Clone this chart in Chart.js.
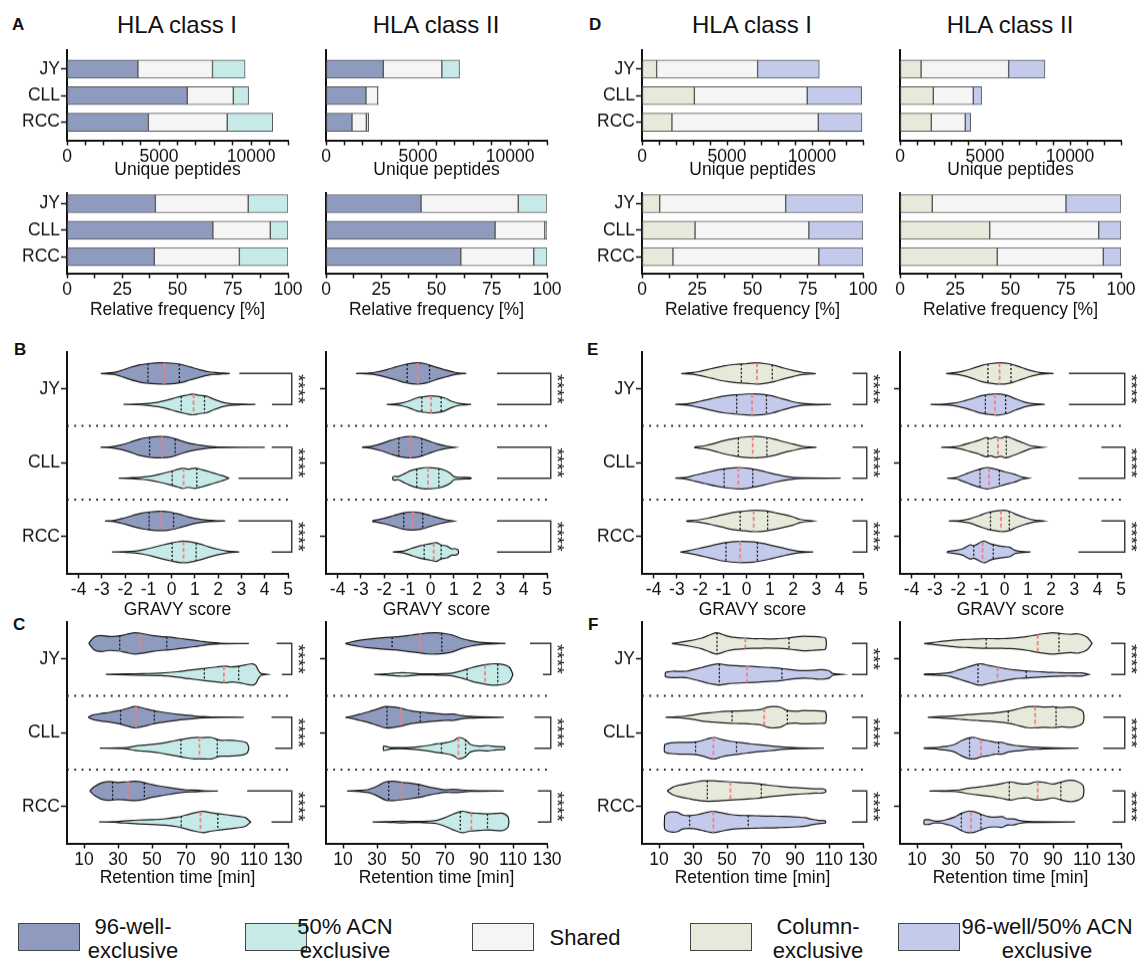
<!DOCTYPE html>
<html><head><meta charset="utf-8">
<script src="https://cdn.jsdelivr.net/npm/chart.js"></script>
<style>
html,body{margin:0;padding:0;background:#fff;}
body{width:1137px;height:961px;position:relative;overflow:hidden;font-family:"Liberation Sans",Arial,sans-serif;color:#111;}
canvas{position:absolute;}
.let{position:absolute;font-weight:bold;font-size:17px;line-height:20px;}
.ttl{position:absolute;font-size:24px;line-height:28px;transform:translateX(-50%);white-space:nowrap;}
.lgb{position:absolute;width:62px;height:28px;border:1px solid #444;box-sizing:border-box;}
.lgt{position:absolute;font-size:22px;line-height:24px;text-align:center;transform:translateX(-50%);white-space:nowrap;}
</style></head><body>
<div class="let" style="left:12px;top:15px">A</div>
<div class="let" style="left:589px;top:15px">D</div>
<div class="let" style="left:14px;top:340px">B</div>
<div class="let" style="left:587px;top:340px">E</div>
<div class="let" style="left:13px;top:615px">C</div>
<div class="let" style="left:588px;top:615px">F</div>
<div class="ttl" style="left:177px;top:11px">HLA class I</div>
<div class="ttl" style="left:436px;top:11px">HLA class II</div>
<div class="ttl" style="left:752px;top:11px">HLA class I</div>
<div class="ttl" style="left:1010px;top:11px">HLA class II</div>

<div class="lgb" style="left:18px;top:923px;background:#8f9abf"></div>
<div class="lgt" style="left:133px;top:915px">96-well-<br>exclusive</div>
<div class="lgb" style="left:245px;top:923px;background:#c6eae8"></div>
<div class="lgt" style="left:345px;top:915px">50% ACN<br>exclusive</div>
<div class="lgb" style="left:472px;top:923px;background:#f5f5f5"></div>
<div class="lgt" style="left:585px;top:926px">Shared</div>
<div class="lgb" style="left:690px;top:923px;background:#e5eada"></div>
<div class="lgt" style="left:818px;top:915px">Column-<br>exclusive</div>
<div class="lgb" style="left:898px;top:923px;background:#c3caec"></div>
<div class="lgt" style="left:1047px;top:915px">96-well/50% ACN<br>exclusive</div>

<script>
// ---- data
const CELLS = ['JY','CLL','RCC'];
const COUNT_TICKS_12 = [0,1000,2000,3000,4000,5000,6000,7000,8000,9000,10000,11000,12000];
const COUNT_TICKS_13 = [0,1000,2000,3000,4000,5000,6000,7000,8000,9000,10000,11000,12000,13000];
const PCT_TICKS = [0,12.5,25,37.5,50,62.5,75,87.5,100];
const GRAVY_TICKS = [-4,-3,-2,-1,0,1,2,3,4,5];
const RT_TICKS = [10,30,50,70,90,110,130];

// A: unique peptides, stacked segments [JY, CLL, RCC]
const aI_well = [3850, 6530, 4420];
const aI_shared = [4050, 2500, 4280];
const aI_acn = [1770, 830, 2470];
const aII_well = [3110, 2170, 1410];
const aII_shared = [3180, 640, 780];
const aII_acn = [960, 30, 130];
// A: relative frequency [%]
const aIrel_well = [40, 66, 39.5];
const aIrel_shared = [42, 26, 38.5];
const aIrel_acn = [18, 8, 22];
const aIIrel_well = [43, 76.5, 61];
const aIIrel_shared = [44, 22.5, 33];
const aIIrel_acn = [13, 1, 6];
// D: unique peptides
const dI_col = [860, 3080, 1760];
const dI_shared = [5940, 6640, 8610];
const dI_mix = [3630, 3200, 2570];
const dII_col = [1240, 1960, 1840];
const dII_shared = [5150, 2350, 2000];
const dII_mix = [2140, 490, 320];
// D: relative frequency [%]
const dIrel_col = [8, 24, 14];
const dIrel_shared = [57, 51.5, 66];
const dIrel_mix = [35, 24.5, 20];
const dIIrel_col = [14.6, 40.6, 44];
const dIIrel_shared = [60.5, 49.3, 48];
const dIIrel_mix = [24.9, 10.1, 8];

// violins: outline as [value, relative width], order JY a/b, CLL a/b, RCC a/b
const bI_violins = [
  [[-3.05,0],[-2.5,0.08],[-2.2,0.25],[-1.8,0.55],[-1.4,0.8],[-1.0,0.92],[-0.5,1.0],[0,0.97],[0.4,0.85],[0.8,0.6],[1.2,0.35],[1.6,0.15],[1.9,0.08],[2.2,0.04],[2.5,0]],
  [[-2.07,0],[-1.5,0.03],[-1.1,0.08],[-0.6,0.2],[-0.2,0.4],[0.2,0.65],[0.6,0.85],[0.9,0.97],[1.2,0.85],[1.5,0.78],[1.8,0.5],[2.2,0.2],[2.5,0.08],[3.0,0.03],[3.6,0]],
  [[-3.06,0],[-2.6,0.05],[-2.2,0.2],[-1.8,0.45],[-1.4,0.75],[-1.0,0.92],[-0.5,1.0],[0,0.9],[0.4,0.6],[0.8,0.35],[1.2,0.2],[1.6,0.08],[2.0,0.02],[4.0,0]],
  [[-2.28,0],[-1.8,0.04],[-1.3,0.1],[-0.9,0.2],[-0.5,0.38],[-0.1,0.6],[0.3,0.85],[0.5,0.95],[0.7,0.85],[1.0,0.95],[1.3,0.8],[1.7,0.55],[2.0,0.35],[2.3,0.15],[2.45,0]],
  [[-2.87,0],[-2.5,0.05],[-2.1,0.25],[-1.7,0.5],[-1.3,0.72],[-0.9,0.85],[-0.5,0.9],[-0.1,0.85],[0.3,0.65],[0.7,0.4],[1.1,0.2],[1.5,0.08],[1.9,0.03],[2.3,0]],
  [[-2.57,0],[-2.0,0.03],[-1.6,0.08],[-1.2,0.22],[-0.8,0.42],[-0.4,0.65],[0,0.85],[0.4,1.0],[0.8,0.95],[1.2,0.75],[1.6,0.48],[2.0,0.25],[2.4,0.08],[2.9,0]]
];
const bI_quart = [[-1.02,-0.31,0.33],[0.41,0.94,1.41],[-0.95,-0.42,0.15],[0.02,0.51,1.08],[-0.97,-0.45,0.08],[0.02,0.51,1.05]];
const bI_arms = [[2.91,4.31],[4.3,2.87],[2.87,4.3]];

const bII_violins = [
  [[-3.21,0],[-2.6,0.05],[-2.3,0.15],[-1.9,0.35],[-1.5,0.6],[-1.1,0.85],[-0.6,1.0],[-0.2,0.9],[0.2,0.6],[0.6,0.35],[1.0,0.12],[1.2,0.05],[1.53,0]],
  [[-1.89,0],[-1.5,0.05],[-1.2,0.15],[-0.9,0.35],[-0.6,0.6],[-0.3,0.72],[0,0.8],[0.3,0.75],[0.6,0.6],[0.9,0.3],[1.2,0.1],[1.5,0.04],[1.74,0]],
  [[-2.95,0],[-2.5,0.12],[-2.1,0.35],[-1.7,0.65],[-1.3,0.9],[-0.9,1.0],[-0.5,0.9],[-0.1,0.6],[0.3,0.3],[0.7,0.1],[1.05,0]],
  [[-1.63,0.12],[-1.55,0.18],[-1.4,0.15],[-1.1,0.45],[-0.8,0.75],[-0.4,0.95],[-0.1,1.0],[0.3,0.92],[0.6,0.75],[0.85,0.45],[1.0,0.15],[1.3,0.08],[1.7,0.06],[1.74,0]],
  [[-2.49,0.05],[-2.3,0.12],[-2.0,0.25],[-1.6,0.5],[-1.2,0.75],[-0.8,0.85],[-0.4,0.75],[0,0.5],[0.4,0.25],[0.7,0.1],[1.0,0]],
  [[-1.63,0],[-1.2,0.08],[-1.0,0.2],[-0.8,0.35],[-0.5,0.55],[-0.2,0.7],[0.1,0.82],[0.25,0.88],[0.45,0.65],[0.7,0.55],[0.9,0.3],[1.05,0.3],[1.17,0.2],[1.2,0]]
];
const bII_quart = [[-1.01,-0.56,-0.05],[-0.38,0.02,0.45],[-1.37,-0.87,-0.38],[-0.6,-0.12,0.35],[-1.16,-0.77,-0.34],[-0.28,0.13,0.45]];
const bII_arms = [[2.85,2.85],[2.85,2.85],[2.85,2.85]];

const eI_violins = [
  [[-2.81,0],[-2.3,0.08],[-2.0,0.2],[-1.5,0.45],[-1.0,0.7],[-0.5,0.85],[0,0.92],[0.4,1.0],[0.8,0.92],[1.2,0.75],[1.6,0.5],[2.0,0.28],[2.4,0.1],[2.97,0]],
  [[-3.07,0],[-2.5,0.08],[-2.0,0.3],[-1.5,0.55],[-1.0,0.78],[-0.5,0.9],[0,0.98],[0.3,1.0],[0.7,0.95],[1.1,0.8],[1.5,0.55],[1.9,0.3],[2.3,0.12],[2.8,0.04],[3.63,0]],
  [[-2.24,0.03],[-1.8,0.15],[-1.4,0.35],[-1.0,0.6],[-0.5,0.82],[0,0.97],[0.4,1.0],[0.8,0.92],[1.2,0.75],[1.6,0.5],[2.0,0.3],[2.4,0.1],[3.0,0]],
  [[-3.07,0],[-2.6,0.08],[-2.2,0.3],[-1.8,0.5],[-1.3,0.75],[-0.8,0.92],[-0.4,1.0],[0,0.95],[0.4,0.8],[0.8,0.6],[1.2,0.38],[1.6,0.2],[2.0,0.08],[2.5,0.03],[4.04,0]],
  [[-2.58,0.03],[-2.1,0.1],[-1.6,0.3],[-1.1,0.55],[-0.6,0.8],[-0.1,0.92],[0.3,1.0],[0.8,0.95],[1.2,0.78],[1.6,0.6],[2.0,0.38],[2.3,0.15],[2.86,0]],
  [[-2.85,0],[-2.5,0.12],[-2.0,0.35],[-1.5,0.6],[-1.0,0.85],[-0.5,0.97],[-0.2,1.0],[0.3,0.95],[0.7,0.8],[1.1,0.6],[1.5,0.4],[1.9,0.2],[2.3,0.06],[2.86,0]]
];
const eI_quart = [[-0.23,0.44,1.1],[-0.43,0.23,0.85],[-0.36,0.26,0.87],[-0.97,-0.36,0.26],[-0.28,0.3,0.9],[-0.89,-0.28,0.46]];
const eI_arms = [[4.55,4.55],[4.55,4.55],[4.55,4.55]];

const eII_violins = [
  [[-2.52,0],[-2.1,0.08],[-1.8,0.2],[-1.4,0.45],[-1.0,0.75],[-0.6,0.92],[-0.2,1.0],[0.2,0.92],[0.6,0.65],[1.0,0.35],[1.4,0.12],[1.6,0.06],[2.1,0]],
  [[-3.19,0],[-2.6,0.04],[-2.2,0.12],[-1.8,0.3],[-1.4,0.55],[-1.0,0.82],[-0.6,0.95],[-0.3,1.0],[0.1,0.85],[0.5,0.5],[0.9,0.2],[1.2,0.08],[1.72,0]],
  [[-2.73,0],[-2.2,0.05],[-1.9,0.15],[-1.5,0.4],[-1.1,0.65],[-0.8,0.9],[-0.6,0.8],[-0.4,0.95],[-0.15,0.85],[0.05,1.0],[0.4,0.75],[0.8,0.4],[1.1,0.15],[1.3,0.08],[1.64,0]],
  [[-2.47,0],[-2.1,0.05],[-1.9,0.2],[-1.6,0.45],[-1.3,0.7],[-1.0,0.9],[-0.75,1.0],[-0.4,0.85],[0,0.6],[0.4,0.38],[0.75,0.1],[1.03,0]],
  [[-2.4,0],[-1.9,0.05],[-1.5,0.2],[-1.1,0.5],[-0.7,0.8],[-0.3,0.95],[-0.1,1.0],[0.2,0.9],[0.5,0.6],[0.9,0.3],[1.2,0.12],[1.67,0]],
  [[-2.47,0.05],[-2.1,0.15],[-1.8,0.3],[-1.5,0.65],[-1.3,0.6],[-1.0,0.95],[-0.85,1.0],[-0.6,0.75],[-0.3,0.6],[0,0.5],[0.2,0.45],[0.45,0.15],[0.7,0.06],[1.11,0]]
];
const eII_quart = [[-0.72,-0.22,0.27],[-0.83,-0.42,0.04],[-0.72,-0.29,0.07],[-1.06,-0.67,-0.23],[-0.61,-0.16,0.2],[-1.33,-0.95,-0.49]];
const eII_arms = [[2.76,2.76],[4.16,3.17],[4.16,3.17]];

const cI_violins = [
  [[12.8,0],[16,0.6],[20,0.75],[25,0.65],[30,0.7],[35,0.85],[40,1.0],[45,0.9],[50,0.75],[55,0.65],[60,0.6],[65,0.5],[70,0.4],[75,0.3],[80,0.18],[85,0.08],[90,0.03],[107,0]],
  [[22.8,0],[35,0.05],[45,0.08],[55,0.12],[65,0.25],[72,0.4],[80,0.55],[88,0.7],[93,0.78],[97,0.7],[102,0.8],[105,0.9],[109,1.0],[111,0.85],[112.5,0.4],[114,0.1],[118,0]],
  [[12.4,0],[15,0.2],[20,0.35],[25,0.45],[30,0.6],[35,0.8],[40,1.0],[45,0.85],[50,0.65],[55,0.5],[60,0.38],[65,0.28],[70,0.2],[75,0.12],[80,0.06],[85,0.03],[104,0]],
  [[19.3,0],[30,0.03],[36,0.08],[40,0.2],[45,0.28],[50,0.35],[55,0.45],[60,0.6],[65,0.75],[70,0.9],[75,1.0],[80,1.0],[85,1.0],[90,0.75],[95,0.75],[100,0.7],[104,0.6],[106,0.45],[107,0]],
  [[13.4,0],[16,0.4],[20,0.75],[25,0.88],[30,0.8],[35,0.85],[40,0.9],[45,0.8],[50,0.6],[55,0.45],[60,0.32],[65,0.2],[70,0.1],[75,0.08],[80,0.03],[88.7,0]],
  [[18.9,0],[28,0.03],[32,0.08],[36,0.12],[42,0.18],[50,0.22],[58,0.3],[65,0.45],[70,0.65],[75,0.85],[80,1.0],[85,0.85],[90,0.75],[95,0.65],[100,0.55],[105,0.4],[108,0]]
];
const cI_quart = [[31,43.4,58.7],[80.8,92.3,101],[31.5,40.6,51.4],[67,77.9,88.4],[26.8,36,45.5],[67.2,78.5,88.7]];
const cI_arms = [[123.3,126.4],[120.3,122.5],[106,120.3]];

const cII_violins = [
  [[11.4,0],[15,0.15],[20,0.3],[25,0.4],[30,0.48],[35,0.55],[40,0.6],[45,0.68],[50,0.78],[55,0.88],[60,0.98],[65,1.0],[70,0.92],[75,0.75],[80,0.45],[85,0.25],[90,0.12],[95,0.06],[105.6,0]],
  [[28.4,0],[35,0.05],[40,0.12],[45,0.17],[50,0.12],[55,0.05],[65,0.06],[70,0.08],[75,0.15],[80,0.35],[85,0.6],[90,0.8],[95,0.95],[100,1.0],[105,0.9],[108,0.65],[110,0]],
  [[11.4,0],[15,0.1],[20,0.3],[25,0.5],[30,0.75],[35,1.0],[40,0.95],[45,0.8],[50,0.6],[55,0.5],[60,0.42],[65,0.35],[70,0.28],[75,0.3],[80,0.15],[85,0.08],[90,0.05],[104.6,0]],
  [[33.8,0.2],[36,0.15],[38,0.06],[45,0.05],[50,0.08],[55,0.15],[60,0.25],[65,0.4],[70,0.5],[75,0.7],[78,1.0],[82,0.8],[85,0.35],[90,0.2],[95,0.25],[100,0.15],[105,0.12],[105.2,0]],
  [[12.4,0],[20,0.06],[25,0.15],[30,0.45],[35,0.85],[40,0.9],[45,0.8],[50,0.72],[55,0.6],[60,0.4],[65,0.25],[70,0.12],[75,0.15],[80,0.1],[85,0.04],[104.6,0]],
  [[27.4,0],[35,0.03],[40,0.05],[45,0.08],[50,0.05],[55,0.05],[60,0.08],[65,0.15],[70,0.4],[75,0.75],[80,1.0],[85,0.85],[90,0.8],[95,0.75],[100,0.8],[104,0.8],[107,0.5],[107.6,0]]
];
const cII_quart = [[38.9,55.5,68.1],[83,93.6,101],[35.9,44.1,55.5],[67.9,77.9,82.1],[36.9,44.5,54.5],[79,85.5,95]];
const cII_arms = [[120,127.6],[122.6,122.6],[124.6,124.6]];

const fI_violins = [
  [[17.5,0],[22,0.1],[28,0.25],[35,0.5],[40,0.8],[44,1.0],[50,0.7],[55,0.55],[60,0.5],[65,0.45],[70,0.45],[75,0.42],[80,0.45],[85,0.5],[90,0.6],[95,0.68],[100,0.65],[105,0.6],[108,0.5]],
  [[13.8,0.2],[18,0.3],[22,0.28],[26,0.3],[30,0.45],[35,0.65],[40,0.85],[45,1.0],[50,0.88],[55,0.82],[60,0.78],[65,0.75],[70,0.7],[75,0.65],[80,0.6],[85,0.5],[90,0.4],[95,0.35],[100,0.38],[105,0.45],[110,0.35],[112,0.1],[118,0]],
  [[13.8,0],[20,0.04],[25,0.1],[30,0.2],[35,0.35],[40,0.42],[45,0.5],[50,0.55],[55,0.58],[60,0.6],[65,0.65],[70,0.72],[74,0.95],[78,1.0],[82,0.9],[85,0.65],[90,0.55],[95,0.62],[100,0.6],[105,0.58],[108,0.5]],
  [[13.3,0.35],[17,0.5],[22,0.55],[27,0.55],[32,0.6],[36,0.75],[40,0.95],[43,1.0],[47,0.8],[52,0.65],[57,0.55],[62,0.45],[67,0.35],[72,0.28],[77,0.2],[82,0.12],[87,0.07],[92,0.04],[107,0]],
  [[14.8,0],[18,0.35],[22,0.55],[27,0.7],[32,0.85],[37,0.95],[42,0.95],[47,0.9],[52,0.85],[57,0.8],[62,0.75],[67,0.7],[72,0.6],[77,0.5],[82,0.42],[87,0.35],[92,0.3],[97,0.25],[102,0.2],[106,0.2],[108,0.1]],
  [[13.3,0.6],[15,0.85],[18,0.95],[21,0.9],[24,0.65],[28,0.6],[33,0.7],[38,0.9],[42,1.0],[47,0.85],[52,0.7],[57,0.62],[62,0.6],[67,0.58],[72,0.55],[77,0.55],[82,0.52],[87,0.5],[92,0.45],[96,0.4],[100,0.25],[104,0.15],[107.8,0.1]]
];
const fI_quart = [[44.1,60.8,86.5],[45.5,61.8,82.3],[53,71.9,85.5],[31.5,42,55.6],[38.4,52,70.2],[28,42,62.5]];
const fI_arms = [[123.5,123.5],[123.5,123.5],[123.5,123.5]];

const fII_violins = [
  [[14.2,0],[20,0.1],[25,0.2],[30,0.28],[35,0.35],[40,0.38],[45,0.42],[50,0.45],[55,0.45],[60,0.45],[65,0.48],[70,0.55],[75,0.65],[80,0.8],[85,0.92],[90,1.0],[95,0.92],[100,0.85],[105,0.9],[110,0.6],[113,0]],
  [[14.2,0.03],[20,0.06],[25,0.1],[30,0.2],[35,0.45],[40,0.7],[45,0.95],[48,1.0],[52,0.85],[57,0.7],[62,0.55],[67,0.42],[72,0.35],[77,0.3],[82,0.25],[87,0.2],[92,0.18],[97,0.15],[102,0.15],[107,0.15],[111,0]],
  [[16.3,0],[25,0.08],[30,0.12],[35,0.18],[40,0.25],[45,0.3],[50,0.35],[55,0.4],[60,0.48],[65,0.6],[70,0.8],[75,0.98],[80,1.0],[85,0.95],[90,0.98],[95,0.9],[100,0.95],[104,0.85],[107.7,0.5]],
  [[14.2,0.03],[20,0.05],[25,0.15],[28,0.2],[32,0.35],[36,0.7],[40,0.95],[44,1.0],[48,0.8],[52,0.7],[56,0.55],[60,0.55],[64,0.35],[68,0.25],[72,0.2],[76,0.12],[80,0.1],[85,0.06],[90,0.04],[105,0]],
  [[17.3,0],[25,0.02],[30,0.04],[35,0.1],[40,0.25],[45,0.35],[50,0.45],[55,0.55],[60,0.7],[65,0.85],[70,0.7],[75,0.65],[80,0.85],[85,0.8],[90,0.65],[95,0.85],[100,1.0],[104,0.9],[107.7,0.5]],
  [[14.2,0.2],[17,0.22],[20,0.1],[24,0.1],[28,0.25],[32,0.45],[36,0.8],[40,1.0],[44,0.95],[48,0.7],[52,0.5],[56,0.45],[60,0.5],[63,0.3],[67,0.28],[70,0.15],[75,0.05],[103,0]]
];
const fII_quart = [[50.7,81,93.5],[45.9,57.4,74.3],[63.7,79.5,91.8],[40.9,47.6,58],[64.3,81,94.6],[36.1,41.7,47.6]];
const fII_arms = [[124.2,124.2],[119.6,119.6],[125,125]];

const stars4 = ['****','****','****'];
const starsF1 = ['***','****','****'];

// ---- colours
const C_WELL = '#8f9abf', C_ACN = '#c6eae8', C_SHARED = '#f5f5f5', C_COL = '#e5eada', C_MIX = '#c3caec';

// ---- layout
Chart.defaults.font.family = '"Liberation Sans", Arial, sans-serif';
Chart.defaults.color = '#111';
Chart.defaults.animation = false;
Chart.defaults.events = [];
Chart.defaults.plugins.legend.display = false;
Chart.defaults.plugins.tooltip.enabled = false;

const COLS = [[67,288],[326,547],[642,863],[900,1121]];
const ROWS = {
  count: {top:50, bottom:140, xh:40.5, ymin:0.28, ymax:3.68},
  pct:   {top:193, bottom:273, xh:47.5, ymin:0.6, ymax:3.62},
  gravy: {top:352, bottom:573, xh:47.5, ymin:0.5, ymax:3.5},
  rt:    {top:622, bottom:843, xh:45.5, ymin:0.5, ymax:3.5}
};
const YW = 67, PT = 14, PR = 48;
const V_OFF = 0.21, V_W = 0.145;

function mkCanvas(col, R){
  const [l,r] = COLS[col];
  const c = document.createElement('canvas');
  const w = r-l+YW+PR, h = R.bottom-R.top+PT+R.xh;
  c.width = w; c.height = h;
  c.style.left = (l-YW)+'px'; c.style.top = (R.top-PT)+'px';
  c.style.width = w+'px'; c.style.height = h+'px';
  document.body.appendChild(c);
  return c;
}

function xAxis(min, max, ticks, label, title, R){
  return {
    type:'linear', min, max, offset:false,
    afterBuildTicks: s => { s.ticks = ticks.map(v=>({value:v})); },
    afterFit: s => { s.height = R.xh; },
    border:{display:true, width:2, color:'#111'},
    grid:{display:true, offset:false, drawOnChartArea:false, drawTicks:true, tickLength:5, tickWidth:1.5, tickColor:'#111'},
    ticks:{font:{size:17.5}, padding:1, maxRotation:0, autoSkip:false, callback: v => label(v)},
    title:{display:true, text:title, font:{size:17.5}, padding:{top:0, bottom:0}}
  };
}
function yAxis(R, labels, marks){
  return {
    type:'linear', min:R.ymin, max:R.ymax, reverse:true, offset:false,
    afterBuildTicks: s => { s.ticks = [1,2,3].map(v=>({value:v})); },
    afterFit: s => { s.width = YW; },
    border:{display:true, width:2, color:'#111'},
    grid:{display:true, offset:false, drawOnChartArea:false, drawTicks:marks, tickLength:6, tickWidth:1.5, tickColor:'#111'},
    ticks:{display:labels, font:{size:17.5}, padding:1, callback: v => CELLS[v-1]}
  };
}

function barPanel(col, rowKey, segs, colors, showY){
  const R = ROWS[rowKey];
  const pct = rowKey==='pct';
  const ticks = pct ? PCT_TICKS : (col<2 ? COUNT_TICKS_12 : COUNT_TICKS_13);
  const max = ticks[ticks.length-1];
  const label = pct ? (v => v%25===0 ? String(v) : '') : (v => v%5000===0 ? String(v) : '');
  const x = Object.assign(xAxis(0, max, ticks, label, pct ? 'Relative frequency [%]' : 'Unique peptides', R), {stacked:true});
  const y = Object.assign(yAxis(R, showY, showY), {stacked:true});
  new Chart(mkCanvas(col, R), {
    type:'bar',
    data:{ datasets: segs.map((arr,k)=>({
      data: arr.map((v,i)=>({x:v, y:i+1})),
      backgroundColor: colors[k], borderColor:'#555', borderWidth:1, borderSkipped:false, barThickness:18
    }))},
    options:{
      responsive:false, indexAxis:'y',
      layout:{padding:{left:0, top:PT, right:PR, bottom:0}},
      scales:{x, y}
    }
  });
}

// width of a violin outline at value x (for quartile lines)
function widthAt(prof, x){
  for(let k=1;k<prof.length;k++){
    if(x<=prof[k][0]){ const [x0,w0]=prof[k-1],[x1,w1]=prof[k]; return w0+(w1-w0)*(x-x0)/(x1-x0); }
  }
  return 0;
}

const starPlugin = {
  id:'stars',
  afterDatasetsDraw(chart, args, opts){
    const {ctx, chartArea, scales:{y}} = chart;
    ctx.save();
    ctx.font = '19px "Liberation Sans", Arial, sans-serif';
    ctx.fillStyle = '#111'; ctx.textAlign = 'center'; ctx.textBaseline = 'middle';
    opts.marks.forEach((s,g)=>{
      ctx.save();
      ctx.translate(chartArea.right + opts.dx, y.getPixelForValue(g+1));
      ctx.rotate(Math.PI/2);
      ctx.fillText(s, 0, 0);
      ctx.restore();
    });
    ctx.restore();
  }
};

function violinPanel(col, rowKey, violins, quarts, arms, marks, colors, showY){
  const R = ROWS[rowKey];
  const gravy = rowKey==='gravy';
  const min = gravy ? -4.5 : 0, max = gravy ? 5 : 130;
  const ticks = gravy ? GRAVY_TICKS : RT_TICKS;
  const bx = max + (max-min)*0.017;
  const ds = [];
  const dotted = [], median = [], brackets = [], seps = [];
  violins.forEach((prof,i)=>{
    const yc = Math.floor(i/2)+1 + (i%2 ? V_OFF : -V_OFF);
    const top = prof.map(([x,w])=>({x, y:yc-w*V_W}));
    const bot = prof.slice().reverse().map(([x,w])=>({x, y:yc+w*V_W}));
    ds.push({data: top.concat(bot, [top[0]]), fill:'shape', backgroundColor:colors[i%2],
      borderColor:'#1a1a1a', borderWidth:1.2, tension:0.3, pointRadius:0, order:3});
    const [q1,md,q3] = quarts[i];
    [q1,q3].forEach(q=>{ const w=widthAt(prof,q)*V_W; dotted.push({x:q,y:yc-w},{x:q,y:yc+w},{x:q,y:null}); });
    const wm = widthAt(prof,md)*V_W;
    median.push({x:md,y:yc-wm},{x:md,y:yc+wm},{x:md,y:null});
  });
  arms.forEach(([a,b],g)=>{
    const y1 = g+1-V_OFF, y2 = g+1+V_OFF;
    brackets.push({x:a,y:y1},{x:bx,y:y1},{x:bx,y:y2},{x:b,y:y2},{x:b,y:null});
  });
  [1.5,2.5].forEach(v=>seps.push({x:min,y:v},{x:max,y:v},{x:max,y:null}));
  ds.push({data:dotted, borderColor:'#111', borderWidth:1.3, borderDash:[2,2], pointRadius:0, fill:false, order:1});
  ds.push({data:median, borderColor:'#f07f7f', borderWidth:1.8, borderDash:[4,2.5], pointRadius:0, fill:false, order:1});
  ds.push({data:brackets, borderColor:'#333', borderWidth:1.4, pointRadius:0, fill:false, clip:false, order:2});
  ds.push({data:seps, borderColor:'#222', borderWidth:1.8, borderDash:[1.8,5.5], pointRadius:0, fill:false, order:2});

  new Chart(mkCanvas(col, R), {
    type:'line',
    data:{datasets:ds},
    plugins:[starPlugin],
    options:{
      responsive:false,
      layout:{padding:{left:0, top:PT, right:PR, bottom:0}},
      plugins:{stars:{marks, dx:9}},
      scales:{
        x: xAxis(min, max, ticks, v=>String(v), gravy ? 'GRAVY score' : 'Retention time [min]', R),
        y: yAxis(R, showY, true)
      }
    }
  });
}

// ---- build
barPanel(0,'count',[aI_well,aI_shared,aI_acn],[C_WELL,C_SHARED,C_ACN],true);
barPanel(1,'count',[aII_well,aII_shared,aII_acn],[C_WELL,C_SHARED,C_ACN],false);
barPanel(2,'count',[dI_col,dI_shared,dI_mix],[C_COL,C_SHARED,C_MIX],true);
barPanel(3,'count',[dII_col,dII_shared,dII_mix],[C_COL,C_SHARED,C_MIX],false);
barPanel(0,'pct',[aIrel_well,aIrel_shared,aIrel_acn],[C_WELL,C_SHARED,C_ACN],true);
barPanel(1,'pct',[aIIrel_well,aIIrel_shared,aIIrel_acn],[C_WELL,C_SHARED,C_ACN],false);
barPanel(2,'pct',[dIrel_col,dIrel_shared,dIrel_mix],[C_COL,C_SHARED,C_MIX],true);
barPanel(3,'pct',[dIIrel_col,dIIrel_shared,dIIrel_mix],[C_COL,C_SHARED,C_MIX],false);

violinPanel(0,'gravy',bI_violins,bI_quart,bI_arms,stars4,[C_WELL,C_ACN],true);
violinPanel(1,'gravy',bII_violins,bII_quart,bII_arms,stars4,[C_WELL,C_ACN],false);
violinPanel(2,'gravy',eI_violins,eI_quart,eI_arms,stars4,[C_COL,C_MIX],true);
violinPanel(3,'gravy',eII_violins,eII_quart,eII_arms,stars4,[C_COL,C_MIX],false);
violinPanel(0,'rt',cI_violins,cI_quart,cI_arms,stars4,[C_WELL,C_ACN],true);
violinPanel(1,'rt',cII_violins,cII_quart,cII_arms,stars4,[C_WELL,C_ACN],false);
violinPanel(2,'rt',fI_violins,fI_quart,fI_arms,starsF1,[C_COL,C_MIX],true);
violinPanel(3,'rt',fII_violins,fII_quart,fII_arms,stars4,[C_COL,C_MIX],false);
</script>
</body></html>
